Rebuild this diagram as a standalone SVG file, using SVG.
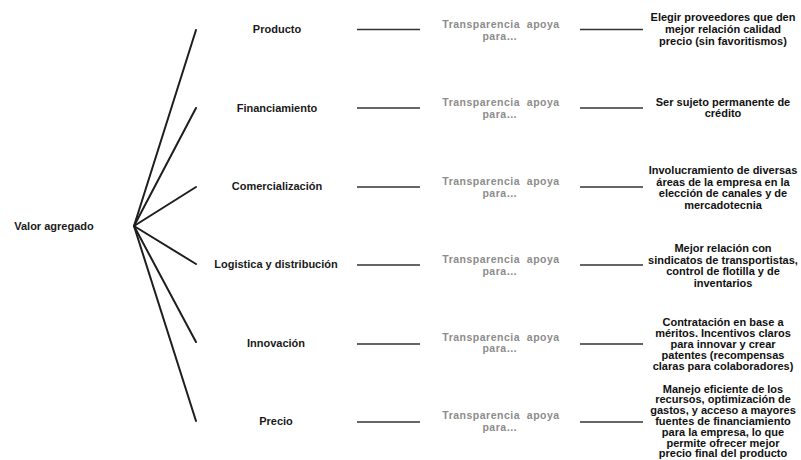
<svg xmlns="http://www.w3.org/2000/svg" width="801" height="460" viewBox="0 0 801 460">
<style>
.lbl{font-family:"Liberation Sans",Arial,sans-serif;font-weight:bold;font-size:11px;fill:#1a1a1a;text-anchor:middle}
.gray{font-family:"Liberation Sans",Arial,sans-serif;font-weight:bold;font-size:10.5px;fill:#8c8c8c;text-anchor:middle;letter-spacing:0.5px;white-space:pre}
.res{font-family:"Liberation Sans",Arial,sans-serif;font-weight:bold;font-size:11px;fill:#111;text-anchor:middle}
.fan{stroke:#1e1e1e;stroke-width:2;fill:none;stroke-linecap:round}
.con{stroke:#333;stroke-width:1.6;fill:none}
</style>
<rect width="801" height="460" fill="#fff"/>
<g id="connectors">
<line class="fan" x1="134" y1="226" x2="196" y2="30"/>
<line class="fan" x1="134" y1="226" x2="196" y2="108"/>
<line class="fan" x1="134" y1="226" x2="196" y2="187"/>
<line class="fan" x1="134" y1="226" x2="196" y2="264"/>
<line class="fan" x1="134" y1="226" x2="196" y2="342"/>
<line class="fan" x1="134" y1="226" x2="196" y2="421"/>
<line class="con" x1="357" y1="29.5" x2="420" y2="29.5"/>
<line class="con" x1="580" y1="29.5" x2="643" y2="29.5"/>
<line class="con" x1="357" y1="108" x2="420" y2="108"/>
<line class="con" x1="580" y1="108" x2="643" y2="108"/>
<line class="con" x1="357" y1="187" x2="420" y2="187"/>
<line class="con" x1="580" y1="187" x2="643" y2="187"/>
<line class="con" x1="357" y1="265" x2="420" y2="265"/>
<line class="con" x1="580" y1="265" x2="643" y2="265"/>
<line class="con" x1="357" y1="344" x2="420" y2="344"/>
<line class="con" x1="580" y1="344" x2="643" y2="344"/>
<line class="con" x1="357" y1="422" x2="420" y2="422"/>
<line class="con" x1="580" y1="422" x2="643" y2="422"/>
</g>
<g id="root"><text class="lbl" x="54" y="230">Valor agregado</text></g>
<g id="n-producto">
<text class="lbl" x="277" y="33">Producto</text>
<text class="gray" x="501" y="28" xml:space="preserve">Transparencia  apoya</text>
<text class="gray" x="500" y="40">para…</text>
<text class="res" x="723"><tspan x="723" y="21">Elegir proveedores que den</tspan><tspan x="723" y="33">mejor relación calidad</tspan><tspan x="723" y="45">precio (sin favoritismos)</tspan></text>
</g>
<g id="n-financiamiento">
<text class="lbl" x="277" y="112">Financiamiento</text>
<text class="gray" x="501" y="106" xml:space="preserve">Transparencia  apoya</text>
<text class="gray" x="500" y="118">para…</text>
<text class="res" x="723"><tspan x="723" y="106">Ser sujeto permanente de</tspan><tspan x="723" y="117">crédito</tspan></text>
</g>
<g id="n-comercializacion">
<text class="lbl" x="277" y="190">Comercialización</text>
<text class="gray" x="501" y="185" xml:space="preserve">Transparencia  apoya</text>
<text class="gray" x="500" y="197">para…</text>
<text class="res" x="723"><tspan x="723" y="174">Involucramiento de diversas</tspan><tspan x="723" y="185.5">áreas de la empresa en la</tspan><tspan x="723" y="197">elección de canales y de</tspan><tspan x="723" y="208.5">mercadotecnia</tspan></text>
</g>
<g id="n-logistica">
<text class="lbl" x="276" y="268">Logistica y distribución</text>
<text class="gray" x="501" y="263" xml:space="preserve">Transparencia  apoya</text>
<text class="gray" x="500" y="275">para…</text>
<text class="res" x="723"><tspan x="723" y="252">Mejor relación con</tspan><tspan x="723" y="263.5">sindicatos de transportistas,</tspan><tspan x="723" y="275">control de flotilla y de</tspan><tspan x="723" y="286.5">inventarios</tspan></text>
</g>
<g id="n-innovacion">
<text class="lbl" x="276" y="347">Innovación</text>
<text class="gray" x="501" y="341" xml:space="preserve">Transparencia  apoya</text>
<text class="gray" x="500" y="352">para…</text>
<text class="res" x="723"><tspan x="723" y="326">Contratación en base a</tspan><tspan x="723" y="337">méritos. Incentivos claros</tspan><tspan x="723" y="348">para innovar y crear</tspan><tspan x="723" y="359">patentes (recompensas</tspan><tspan x="723" y="370">claras para colaboradores)</tspan></text>
</g>
<g id="n-precio">
<text class="lbl" x="276" y="425">Precio</text>
<text class="gray" x="501" y="419" xml:space="preserve">Transparencia  apoya</text>
<text class="gray" x="500" y="431">para…</text>
<text class="res" x="723"><tspan x="723" y="392.5">Manejo eficiente de los</tspan><tspan x="723" y="403.3">recursos, optimización de</tspan><tspan x="723" y="414.1">gastos, y acceso a mayores</tspan><tspan x="723" y="424.9">fuentes de financiamiento</tspan><tspan x="723" y="435.7">para la empresa, lo que</tspan><tspan x="723" y="446.5">permite ofrecer mejor</tspan><tspan x="723" y="457.3">precio final del producto</tspan></text>
</g>
</svg>
